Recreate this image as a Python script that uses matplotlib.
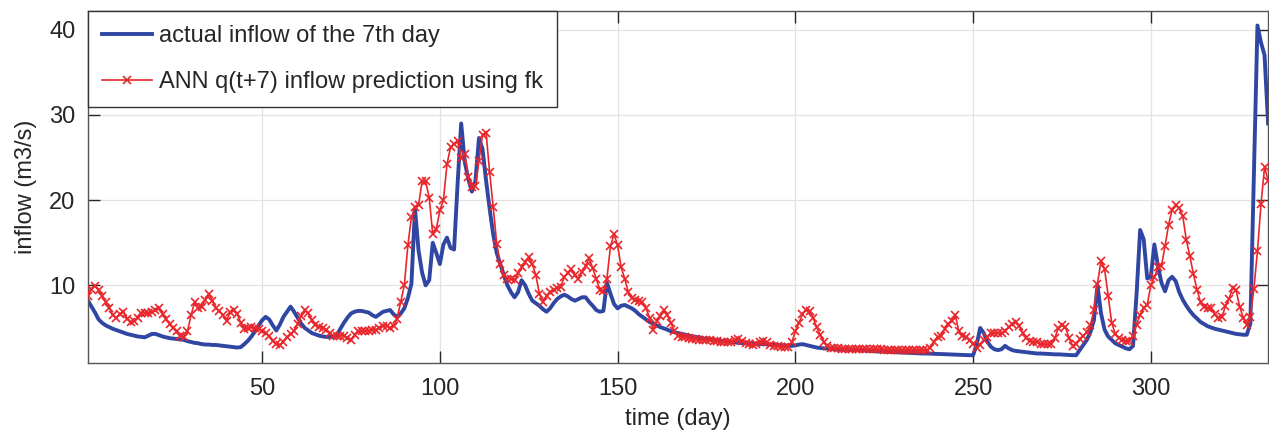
import numpy as np
import matplotlib
matplotlib.use("Agg")
import matplotlib.pyplot as plt

plt.rcParams['font.family'] = ['Liberation Sans', 'DejaVu Sans']

# actual inflow of the 7th day (m3/s), one value per day
actual = [8.2, 7.5, 6.8, 6.0, 5.6, 5.3, 5.1, 4.9, 4.75, 4.6,
          4.45, 4.3, 4.2, 4.1, 4.0, 3.95, 3.9, 4.1, 4.3, 4.3,
          4.15, 4.0, 3.9, 3.8, 3.75, 3.7, 3.65, 3.6, 3.45, 3.35,
          3.25, 3.2, 3.1, 3.05, 3.05, 3.0, 3.0, 2.95, 2.9, 2.85,
          2.8, 2.75, 2.7, 2.75, 3.1, 3.5, 4.0, 4.6, 5.3, 5.9,
          6.3, 6.0, 5.3, 4.7, 5.4, 6.3, 6.9, 7.5, 6.9, 6.2,
          5.5, 5.0, 4.7, 4.4, 4.25, 4.1, 4.0, 3.95, 3.95, 3.95,
          4.1, 4.9, 5.6, 6.2, 6.7, 6.9, 7.0, 7.0, 6.9, 6.8,
          6.5, 6.3, 6.6, 6.9, 7.0, 7.1, 6.6, 6.3, 6.7, 7.3,
          8.5, 10.2, 19.0, 14.1, 11.5, 10.0, 10.6, 15.0, 13.8, 12.5,
          14.8, 15.6, 14.4, 14.2, 22.0, 29.0, 24.5, 22.5, 21.0, 22.2,
          27.3, 26.0, 22.3, 19.0, 16.0, 13.8, 12.5, 11.2, 10.0, 9.2,
          8.6, 9.2, 10.6, 10.0, 9.0, 8.2, 7.9, 7.6, 7.2, 6.9,
          7.3, 7.9, 8.4, 8.7, 8.9, 8.7, 8.4, 8.2, 8.4, 8.6,
          8.6, 8.05, 7.6, 7.1, 6.9, 7.0, 10.3, 9.0, 7.8, 7.3,
          7.6, 7.7, 7.5, 7.3, 7.0, 6.6, 6.3, 6.0, 5.7, 5.5,
          5.3, 5.1, 4.95, 4.8, 4.6, 4.5, 4.4, 4.3, 4.2, 4.1,
          4.0, 3.95, 3.9, 3.8, 3.7, 3.65, 3.6, 3.55, 3.5, 3.45,
          3.4, 3.35, 3.3, 3.25, 3.22, 3.2, 3.18, 3.15, 3.13, 3.1,
          3.1, 3.08, 3.05, 3.02, 3.0, 2.98, 2.95, 2.93, 2.9, 2.95,
          3.05, 3.1, 3.0, 2.9, 2.8, 2.7, 2.65, 2.6, 2.58, 2.55,
          2.52, 2.5, 2.48, 2.45, 2.43, 2.4, 2.4, 2.38, 2.35, 2.33,
          2.3, 2.28, 2.25, 2.23, 2.2, 2.2, 2.18, 2.15, 2.13, 2.1,
          2.08, 2.06, 2.05, 2.04, 2.02, 2.0, 2.0, 1.98, 1.96, 1.95,
          1.94, 1.92, 1.9, 1.88, 1.86, 1.85, 1.84, 1.82, 1.8, 1.8,
          3.0, 5.0, 4.4, 3.4, 2.8, 2.5, 2.4, 2.5, 2.9, 2.6,
          2.4, 2.3, 2.25, 2.2, 2.15, 2.1, 2.05, 2.0, 2.0, 1.98,
          1.95, 1.93, 1.9, 1.9, 1.88, 1.85, 1.83, 1.8, 1.8, 2.4,
          3.0, 3.6, 4.5, 5.9, 10.0, 6.7, 4.8, 4.0, 3.6, 3.2,
          3.0, 2.8, 2.6, 2.5, 2.9, 9.0, 16.5, 15.4, 10.8, 11.0,
          14.8, 12.3, 10.3, 9.3, 10.6, 11.0, 10.5, 9.2, 8.3, 7.6,
          7.0, 6.5, 6.1, 5.7, 5.45, 5.2, 5.05, 4.9, 4.8, 4.7,
          4.6, 4.5, 4.4, 4.3, 4.25, 4.2, 4.2, 5.5, 23.0, 40.5,
          38.5, 37.0, 29.0]

# ANN q(t+7) prediction (m3/s)
predicted = [8.8, 9.6, 9.9, 9.4, 8.8, 8.0, 7.4, 6.5, 6.2, 6.6,
             6.9, 6.1, 5.7, 5.8, 6.2, 6.8, 6.8, 6.7, 6.9, 7.1,
             7.3, 6.6, 6.0, 5.5, 5.0, 4.6, 4.1, 3.95, 4.6, 6.5,
             8.0, 7.3, 7.5, 8.3, 9.0, 8.2, 7.3, 7.0, 6.5, 5.8,
             6.9, 7.1, 6.6, 5.6, 4.9, 5.0, 5.1, 5.0, 4.9, 4.7,
             4.4, 4.0, 3.5, 3.1, 3.0, 3.4, 3.9, 4.3, 4.7, 5.5,
             6.4, 7.1, 6.7, 5.9, 5.4, 5.15, 5.05, 4.8, 4.4, 4.1,
             4.0, 4.1, 4.1, 3.8, 3.6, 4.2, 4.6, 4.65, 4.65, 4.7,
             4.75, 4.8, 5.0, 5.2, 5.2, 5.05, 5.2, 6.1, 8.1, 10.0,
             14.7, 18.0, 19.2, 19.4, 22.2, 22.2, 20.3, 16.0, 16.6, 18.8,
             20.0, 24.2, 26.2, 26.6, 26.9, 25.0, 25.4, 22.7, 21.5, 21.7,
             24.6, 27.7, 27.9, 23.3, 19.2, 14.9, 12.5, 11.2, 10.8, 10.8,
             10.6, 11.4, 12.1, 12.7, 13.3, 12.5, 11.2, 9.0, 8.1, 8.8,
             9.2, 9.5, 9.7, 9.8, 11.0, 11.4, 11.9, 11.2, 10.8, 11.6,
             12.3, 13.2, 12.0, 10.8, 9.4, 9.3, 10.8, 14.6, 16.0, 14.7,
             12.1, 10.8, 9.2, 8.5, 8.3, 8.2, 8.0, 7.3, 6.2, 4.8,
             5.8, 6.4, 7.1, 6.5, 5.6, 4.6, 4.1, 3.95, 3.9, 3.8,
             3.7, 3.65, 3.6, 3.6, 3.55, 3.55, 3.5, 3.45, 3.4, 3.4,
             3.35, 3.4, 3.6, 3.65, 3.5, 3.2, 3.1, 3.05, 3.1, 3.3,
             3.45, 3.35, 3.05, 2.9, 2.85, 2.8, 2.75, 2.75, 3.3, 4.6,
             5.6, 6.6, 7.1, 7.0, 6.2, 5.1, 4.2, 3.4, 2.9, 2.65,
             2.6, 2.6, 2.58, 2.57, 2.56, 2.55, 2.54, 2.53, 2.52, 2.51,
             2.5, 2.5, 2.49, 2.48, 2.47, 2.46, 2.45, 2.45, 2.44, 2.43,
             2.42, 2.42, 2.41, 2.4, 2.4, 2.4, 2.4, 2.7, 3.4, 3.95,
             4.0, 4.9, 5.5, 5.8, 6.5, 4.6, 4.1, 3.95, 3.55, 3.1,
             2.7, 3.0, 3.6, 3.9, 4.35, 4.4, 4.4, 4.4, 4.6, 5.1,
             5.5, 5.7, 5.2, 4.4, 3.8, 3.5, 3.4, 3.3, 3.15, 3.1,
             3.1, 3.1, 3.8, 5.0, 5.3, 5.1, 3.8, 2.9, 3.1, 3.7,
             4.1, 4.5, 5.3, 7.1, 10.2, 12.9, 11.9, 8.8, 5.6, 4.3,
             3.8, 3.6, 3.5, 3.5, 4.0, 5.4, 6.5, 7.4, 7.7, 10.0,
             11.0, 12.1, 12.3, 14.6, 17.1, 18.9, 19.4, 19.05, 18.1, 15.3,
             13.4, 11.3, 9.5, 8.0, 7.5, 7.35, 7.3, 6.6, 6.2, 6.25,
             7.6, 8.4, 9.7, 9.4, 7.5, 6.2, 5.4, 6.3, 9.6, 14.0,
             19.5, 23.9, 22.3]

days = np.arange(1, len(actual) + 1)

fig = plt.figure(figsize=(12.69, 4.32), dpi=100)
ax = fig.add_axes([0.0693, 0.160, 0.9300, 0.8145])

ax.plot(days, actual, color='#2f46a3', lw=2.8, label='actual inflow of the 7th day', zorder=2)
ax.plot(days, predicted, color='#e8262b', lw=1.2, marker='x', ms=6, mew=1.2,
        label='ANN q(t+7) inflow prediction using fk', zorder=3)

ax.set_xlim(1, 333)
ax.set_ylim(0.9, 42.2)
ax.set_xticks([50, 100, 150, 200, 250, 300])
ax.set_yticks([10, 20, 30, 40])
ax.grid(True, color='#e3e3e3', lw=0.9)
ax.set_axisbelow(True)
ax.tick_params(direction='in', length=8.5, width=1, colors='#262626', labelsize=17,
               top=True, right=True)
ax.tick_params(axis='x', pad=11)
ax.tick_params(axis='y', pad=9)
for s in ax.spines.values():
    s.set_color('#555555')
    s.set_linewidth(1)

ax.set_xlabel('time (day)', fontsize=17, color='#262626', labelpad=6)
ax.set_ylabel('inflow (m3/s)', fontsize=17, color='#262626', labelpad=9)

leg = ax.legend(loc='upper left', fontsize=17, frameon=True, fancybox=False,
                borderaxespad=0, handlelength=2.1, labelspacing=1.0,
                borderpad=0.6, handletextpad=0.3)
leg.get_frame().set_edgecolor('#333333')
leg.get_frame().set_linewidth(1)
leg.get_frame().set_alpha(1)
for t in leg.get_texts():
    t.set_color('#262626')

fig.savefig('out.png', dpi=100)
